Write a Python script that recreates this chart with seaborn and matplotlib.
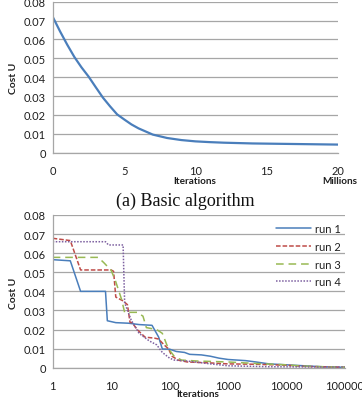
import numpy as np
import pandas as pd
import matplotlib
matplotlib.use("Agg")
import matplotlib.pyplot as plt
import seaborn as sns
from matplotlib.ticker import FuncFormatter, FixedLocator, NullLocator

# ---------------- data ----------------
basic_x = [0, 0.5, 1, 1.5, 2, 2.5, 3, 3.5, 4, 4.5, 5, 5.5, 6, 7, 8, 9, 10,
           11, 12, 13, 14, 15, 16, 17, 18, 19, 20]
basic_y = [0.0717, 0.0642, 0.0572, 0.0507, 0.0452, 0.0403, 0.0347, 0.0292,
           0.0246, 0.0203, 0.0176, 0.0150, 0.0129, 0.0096, 0.0078, 0.0067,
           0.0060, 0.0056, 0.0053, 0.0051, 0.0049, 0.0048, 0.0047, 0.0046,
           0.0045, 0.0044, 0.0043]

run1_x = [1, 2, 3, 8, 8.6, 12, 20, 30, 50, 65, 75, 100, 130, 180, 220, 350,
          500, 700, 1000, 2000, 3000, 5000, 10000, 20000, 40000, 100000]
run1_y = [0.0566, 0.0560, 0.0400, 0.0400, 0.0246, 0.0236, 0.0233, 0.0226,
          0.0222, 0.0160, 0.0098, 0.0097, 0.0085, 0.0080, 0.0070, 0.0067,
          0.0060, 0.0050, 0.0043, 0.0037, 0.0030, 0.0020, 0.0015, 0.0010,
          0.0005, 0.0002]

run2_x = [1, 2, 3, 10, 11, 12, 16, 19, 21, 23, 28, 38, 55, 65, 80, 95, 110,
          140, 200, 500, 1000, 3000, 10000, 20000, 100000]
run2_y = [0.0678, 0.0666, 0.0512, 0.0512, 0.0505, 0.0370, 0.0350, 0.0330,
          0.0238, 0.0235, 0.0199, 0.0160, 0.0155, 0.0150, 0.0120, 0.0100,
          0.0060, 0.0040, 0.0030, 0.0025, 0.0020, 0.0018, 0.0013, 0.0007,
          0.0002]

run3_x = [1, 6, 7.5, 10, 12, 15, 17, 28, 35, 40, 60, 75, 95, 120, 160, 300,
          1000, 3000, 10000, 20000, 100000]
run3_y = [0.0578, 0.0578, 0.0550, 0.0510, 0.0450, 0.0360, 0.0290, 0.0290,
          0.0270, 0.0210, 0.0200, 0.0180, 0.0100, 0.0060, 0.0040, 0.0035,
          0.0030, 0.0022, 0.0015, 0.0008, 0.0002]

run4_x = [1, 8, 9, 16, 17, 22, 30, 45, 60, 75, 100, 120, 200, 500, 1000,
          5000, 100000]
run4_y = [0.0660, 0.0660, 0.0643, 0.0643, 0.0340, 0.0250, 0.0180, 0.0140,
          0.0120, 0.0080, 0.0050, 0.0040, 0.0035, 0.0020, 0.0010, 0.0005,
          0.0003]

run_names = ["run 1", "run 2", "run 3", "run 4"]

y_ticks = [0, 0.01, 0.02, 0.03, 0.04, 0.05, 0.06, 0.07, 0.08]
top_x_ticks = [0, 5, 10, 15, 20]
bot_x_ticks = [1, 10, 100, 1000, 10000, 100000]

# ---------------- style ----------------
sns.set_theme(style="white")
plt.rcParams["font.family"] = ["Lato", "DejaVu Sans"]

grid_c = "#a6a6a6"
txt_c = "#1f1f1f"
colors = ["#4a7ebb", "#be4b48", "#98b954", "#7d60a0"]
dashes = [None, (3, 1.3), (5, 3.2), (1, 1)]

fig = plt.figure(figsize=(3.62, 4.02), dpi=100)

def style_axes(ax):
    ax.set_ylim(0, 0.08)
    ax.yaxis.set_major_locator(FixedLocator(y_ticks))
    ax.yaxis.set_major_formatter(FuncFormatter(lambda v, p: "0" if abs(v) < 1e-9 else f"{v:.2f}"))
    ax.grid(axis="y", color=grid_c, linewidth=0.9)
    ax.grid(axis="x", visible=False)
    for s in ["top", "right"]:
        ax.spines[s].set_visible(False)
    for s in ["left", "bottom"]:
        ax.spines[s].set_color(grid_c)
        ax.spines[s].set_linewidth(0.9)
    ax.tick_params(axis="both", which="major", direction="out", length=3,
                   width=0.9, color=grid_c, labelsize=8, labelcolor=txt_c, pad=2)
    ax.tick_params(axis="x", length=4, pad=4.5)
    ax.set_xlabel("")
    ax.set_ylabel("")
    ax.set_axisbelow(True)

# ---- top axes ----
ax1 = fig.add_axes([53 / 362, 1 - 153.7 / 402, 285 / 362, 151 / 402])
sns.lineplot(x=basic_x, y=basic_y, ax=ax1, color=colors[0], linewidth=1.6,
             sort=False, estimator=None)
ax1.set_xlim(0, 20)
ax1.xaxis.set_major_locator(FixedLocator(top_x_ticks))
style_axes(ax1)

fig.text(195 / 362, 1 - 182 / 402, "Iterations", ha="center", va="center",
         fontsize=7.2, fontweight="bold", color=txt_c)
fig.text(340 / 362, 1 - 182 / 402, "Millions", ha="center", va="center",
         fontsize=7.2, fontweight="bold", color=txt_c)
fig.text(13 / 362, 1 - 78 / 402, "Cost U", rotation=90, ha="center", va="center",
         fontsize=7.5, fontweight="bold", color=txt_c)
fig.text(185 / 362, 1 - 201 / 402, "(a) Basic algorithm", ha="center", va="center",
         fontsize=13, family=["Liberation Serif", "DejaVu Serif"], color="#111111")

# ---- bottom axes ----
ax2 = fig.add_axes([52.7 / 362, 1 - 368.7 / 402, 292.3 / 362, 152.7 / 402])
runs_x = [run1_x, run2_x, run3_x, run4_x]
runs_y = [run1_y, run2_y, run3_y, run4_y]
for xs, ys, name, c, d in zip(runs_x, runs_y, run_names, colors, dashes):
    line_kw = dict(x=xs, y=ys, ax=ax2, color=c, linewidth=1.1, sort=False,
                   estimator=None, label=name)
    sns.lineplot(**line_kw)
    if d is not None:
        ax2.lines[-1].set_dashes(d)
ax2.set_xscale("log")
ax2.set_xlim(1, 100000)
ax2.xaxis.set_major_locator(FixedLocator(bot_x_ticks))
ax2.xaxis.set_minor_locator(NullLocator())
ax2.xaxis.set_major_formatter(FuncFormatter(lambda v, p: f"{int(round(v))}"))
style_axes(ax2)

leg = ax2.legend(loc="upper right", bbox_to_anchor=(1.0, 0.975), frameon=False,
                 fontsize=8, handlelength=3.2, handletextpad=0.3,
                 labelspacing=0.6, borderaxespad=0.0)
for t in leg.get_texts():
    t.set_color(txt_c)
for h, d in zip(leg.get_lines(), dashes):
    if d is not None:
        h.set_dashes(d)

fig.text(198 / 362, 1 - 395 / 402, "Iterations", ha="center", va="center",
         fontsize=7.2, fontweight="bold", color=txt_c)
fig.text(13 / 362, 1 - 293 / 402, "Cost U", rotation=90, ha="center", va="center",
         fontsize=7.5, fontweight="bold", color=txt_c)

fig.savefig("out.png", dpi=100)
